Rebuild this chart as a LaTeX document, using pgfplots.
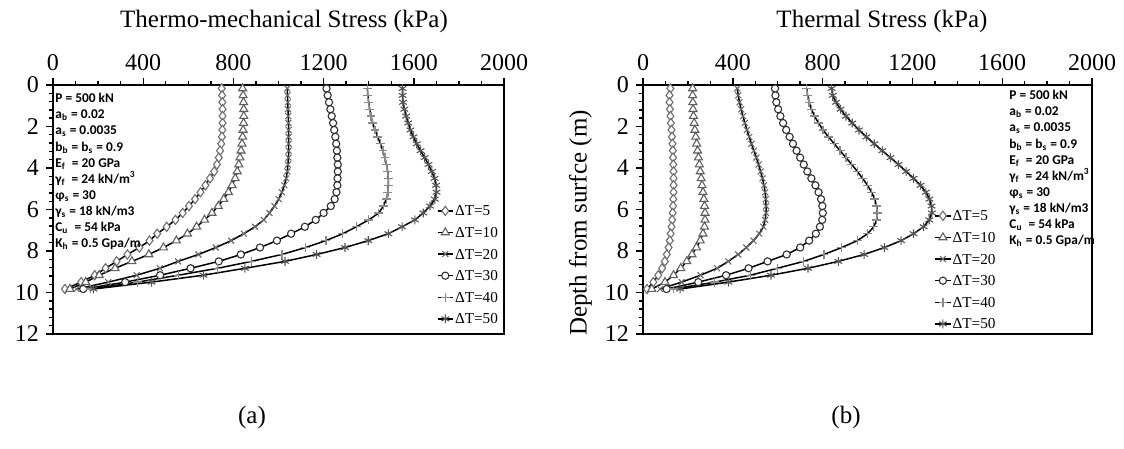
\documentclass[border=0pt]{standalone}
\usepackage{fontspec}
\setmainfont{Liberation Serif}
\newfontfamily\calib{Carlito}
\usepackage{pgfplots}
\usepackage{pgfplotstable}
\pgfplotsset{compat=1.18}

\pgfplotstableread{
d a5 a10 a20 a30 a40 a50 b5 b10 b20 b30 b40 b50
0.167 748 841 1039 1213 1394 1550 122 221 420 588 729 840
0.500 750 843 1040 1218 1396 1550 118 221 424 590 733 845
0.833 751 845 1041 1224 1400 1552 118 222 430 594 740 860
1.167 752 846 1042 1230 1404 1558 120 223 437 602 750 880
1.500 752 846 1043 1236 1410 1566 122 225 445 612 764 904
1.833 752 845 1044 1242 1418 1575 124 228 454 624 782 932
2.167 751 843 1045 1247 1428 1585 127 231 463 638 802 962
2.500 749 841 1045 1252 1440 1598 129 235 473 653 826 995
2.833 746 838 1045 1256 1452 1613 131 239 483 668 852 1030
3.167 741 834 1045 1259 1463 1630 133 243 494 684 878 1066
3.500 735 829 1044 1261 1472 1648 134 247 505 700 904 1102
3.833 727 824 1042 1263 1479 1665 135 251 515 716 930 1138
4.167 715 817 1039 1263 1484 1680 136 255 524 732 955 1172
4.500 696 808 1034 1262 1487 1692 136 259 532 750 978 1205
4.833 676 794 1026 1261 1487 1699 136 263 539 768 1000 1236
5.167 654 778 1015 1257 1485 1701 136 267 544 782 1018 1260
5.500 630 757 1001 1249 1478 1693 135 271 547 793 1032 1276
5.833 603 733 982 1232 1465 1672 134 274 548 799 1041 1285
6.167 575 705 960 1200 1445 1642 132 276 548 801 1044 1287
6.500 543 672 935 1165 1400 1605 130 276 544 798 1041 1275
6.833 504 637 896 1117 1345 1548 127 274 536 788 1028 1250
7.167 462 596 846 1056 1285 1487 123 267 518 770 1000 1205
7.500 428 547 790 993 1210 1398 119 255 492 740 955 1150
7.833 383 490 722 918 1120 1295 114 238 460 700 885 1075
8.167 330 425 645 833 1015 1169 106 218 424 640 806 985
8.500 282 350 555 735 880 1029 97 195 380 555 716 870
8.833 233 275 474 610 730 851 85 168 330 470 598 735
9.167 185 205 371 475 555 667 68 136 256 370 478 570
9.500 125 145 245 320 375 437 46 98 172 246 320 380
9.833 53 75 105 134 165 179 18 39 76 105 135 165
}\data

\definecolor{mk1}{HTML}{6E6E6E}
\definecolor{mk2}{HTML}{606060}
\definecolor{mk3}{HTML}{6A6A6A}
\definecolor{mk4}{HTML}{303030}
\definecolor{mk5}{HTML}{8A8A8A}
\definecolor{mk6}{HTML}{555555}

\pgfplotsset{
  panel/.style={
    scale only axis, height=124.5pt,
    xmin=0, xmax=2000, ymin=0, ymax=12, y dir=reverse,
    xtick={0,400,...,2000}, minor x tick num=3,
    ytick={0,2,...,12}, minor y tick num=4,
    xtick pos=upper, xticklabel pos=upper,
    ytick pos=left, yticklabel pos=left,
    tick align=outside,
    major tick length=3.5pt, minor tick length=2pt,
    every tick/.style={black, line width=0.7pt},
    axis line style={black, line width=0.9pt},
    ticklabel style={font=\fontsize{12}{14}\selectfont},
    /pgf/number format/assume math mode=true,
    /pgf/number format/1000 sep={},
    legend cell align=left,
    legend image code/.code={\draw[mark repeat=2,mark phase=2,##1] plot coordinates {(0pt,0pt) (3.9pt,0pt) (7.8pt,0pt)};},
    legend style={draw=none, fill=none, inner sep=0pt, row sep=3.6pt,
      font=\fontsize{7.6}{8}\selectfont,
      nodes={inner sep=0.6pt, text height=5.5pt, text depth=0.5pt}},
  },
  s5/.style={black, line width=0.75pt, mark=diamond*, mark size=2.3pt, mark options={solid, fill=white, draw=mk1, line width=0.55pt}},
  s10/.style={black, line width=0.75pt, mark=triangle*, mark size=2.3pt, mark options={solid, fill=white, draw=mk2, line width=0.55pt}},
  s20/.style={black, line width=0.75pt, mark=x, mark size=2.1pt, mark options={solid, draw=mk3, line width=0.55pt}},
  s30/.style={black, line width=0.75pt, mark=*, mark size=1.8pt, mark options={solid, fill=white, draw=mk4, line width=0.55pt}},
  s40/.style={black, line width=0.75pt, mark=+, mark size=2.2pt, mark options={solid, draw=mk5, line width=0.65pt}},
  s50/.style={black, line width=0.75pt, mark=asterisk, mark size=2.2pt, mark options={solid, draw=mk6, line width=0.55pt}},
}

\begin{document}
\begin{tikzpicture}
\path[use as bounding box] (0,0) rectangle (562pt,224.5pt);

\begin{axis}[panel, width=225.5pt, at={(26.5pt,57.5pt)}, anchor=south west,
  legend style={at={(axis description cs:0.850,0.525)}, anchor=north west}]
\addplot[s5] table[x=a5, y=d] {\data};
\addplot[s10] table[x=a10, y=d] {\data};
\addplot[s20] table[x=a20, y=d] {\data};
\addplot[s30] table[x=a30, y=d] {\data};
\addplot[s40] table[x=a40, y=d] {\data};
\addplot[s50] table[x=a50, y=d] {\data};
\legend{ΔT=5, ΔT=10, ΔT=20, ΔT=30, ΔT=40, ΔT=50}
\end{axis}

\begin{axis}[panel, width=224.5pt, at={(321.5pt,57.5pt)}, anchor=south west,
  legend style={at={(axis description cs:0.648,0.505)}, anchor=north west}]
\addplot[s5] table[x=b5, y=d] {\data};
\addplot[s10] table[x=b10, y=d] {\data};
\addplot[s20] table[x=b20, y=d] {\data};
\addplot[s30] table[x=b30, y=d] {\data};
\addplot[s40] table[x=b40, y=d] {\data};
\addplot[s50] table[x=b50, y=d] {\data};
\legend{ΔT=5, ΔT=10, ΔT=20, ΔT=30, ΔT=40, ΔT=50}
\end{axis}

\node[font=\fontsize{12.5}{15}\selectfont] at (142pt,214pt) {Thermo-mechanical Stress (kPa)};
\node[font=\fontsize{12.5}{15}\selectfont] at (441pt,214pt) {Thermal Stress (kPa)};
\node[font=\fontsize{12.5}{15}\selectfont, rotate=90] at (290.25pt,113pt) {Depth from surfce (m)};
\node[font=\fontsize{12.5}{15}\selectfont] at (126pt,16pt) {(a)};
\node[font=\fontsize{12.5}{15}\selectfont] at (423pt,16pt) {(b)};

\newcommand{\params}{P = 500 kN\\
a\textsubscript{b} = 0.02\\
a\textsubscript{s} = 0.0035\\
b\textsubscript{b} = b\textsubscript{s} = 0.9\\
E\textsubscript{f}~ = 20 GPa\\
γ\textsubscript{f}~ = 24 kN/m\textsuperscript{3}\\
φ\textsubscript{s} = 30\\
γ\textsubscript{s} = 18 kN/m3\\
C\textsubscript{u}~ = 54 kPa\\
K\textsubscript{h} = 0.5 Gpa/m}
\node[anchor=north west, align=left, inner sep=0pt, font=\calib\bfseries\fontsize{6.7}{8.05}\selectfont] at (27.5pt,178pt) {\params};
\node[anchor=north west, align=left, inner sep=0pt, font=\calib\bfseries\fontsize{6.7}{8.05}\selectfont] at (504.5pt,179.5pt) {\params};
\end{tikzpicture}
\end{document}
